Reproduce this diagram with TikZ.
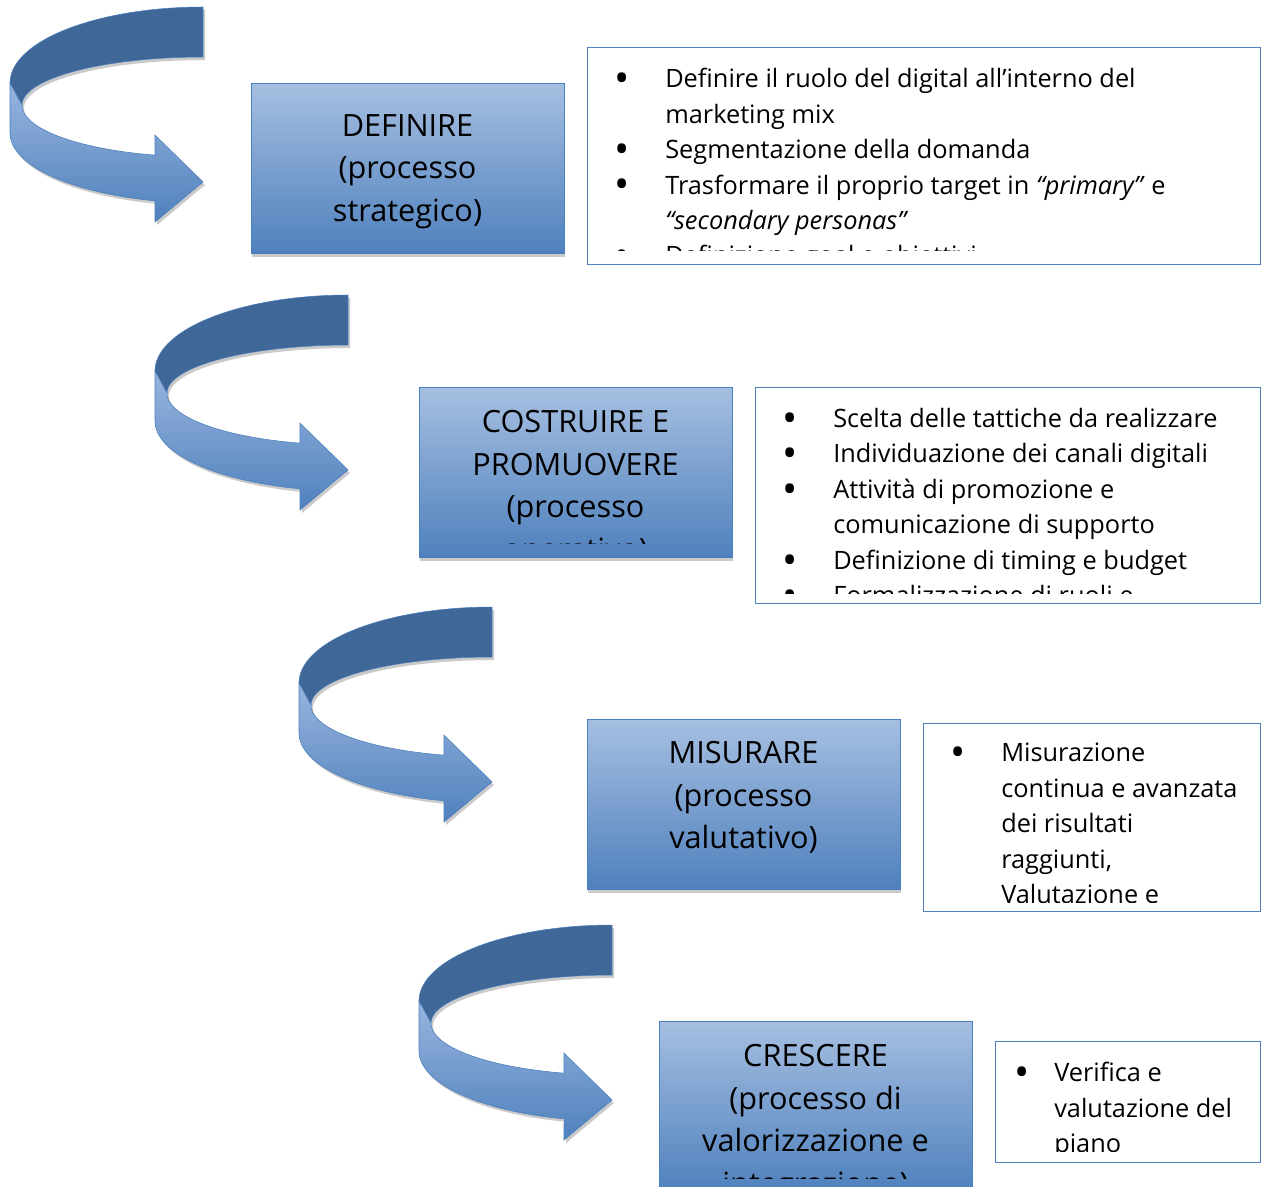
\documentclass[tikz,border=0pt]{standalone}
\usepackage{fontspec}
\setmainfont{Open Sans}
\usetikzlibrary{calc}
\usetikzlibrary{shadows}

\definecolor{dkblue}{HTML}{3F6797}
\definecolor{mdblue}{HTML}{4F81BD}
\definecolor{ltblue}{HTML}{A6BFE1}
\definecolor{arblue}{HTML}{98B5DE}
\definecolor{lnblue}{HTML}{4A7EBB}
\definecolor{shgray}{HTML}{CACACA}

\newcommand{\itm}[1][32.25pt]{\makebox[0pt]{\smash{\raisebox{-3.6pt}{\scalebox{1.6}{\textbullet}}}}\hspace*{#1}}
\newcommand{\ind}[1][32.25pt]{\hspace*{#1}}
\newcommand{\arrtop}{(203,7) -- plot[domain=90:180,samples=40] ({203+193*cos(\x)},{83-76*sin(\x)}) -- (22,105) -- plot[domain=180:90,samples=40] ({203+181*cos(\x)},{105-48*sin(\x)}) -- cycle}
\newcommand{\arrbot}{(10,83) -- (10,133) -- plot[domain=180:104.4,samples=40] ({203+193*cos(\x)},{133+70*sin(\x)}) -- (155,222) -- (203,182) -- (155,135) -- (155,155) -- plot[domain=105:180,samples=40] ({203+181*cos(\x)},{105+52*sin(\x)}) -- cycle}

\begin{document}
\begin{tikzpicture}[x=0.75pt,y=-0.75pt,
    box/.style={draw=lnblue,top color=ltblue,bottom color=mdblue,inner sep=0pt,
        minimum width=234.75pt,minimum height=127.5pt,
        general shadow={fill=shgray,shadow xshift=0.75pt,shadow yshift=-3pt}},
    tbox/.style={draw=mdblue,fill=white,inner sep=0pt},
    btxt/.style={align=center,inner sep=0pt,font=\fontsize{23}{31.9}\selectfont},
    lst/.style={align=left,inner sep=0pt,font=\fontsize{19}{26.6}\selectfont}]
\useasboundingbox (0,0) rectangle (1262,1186);

% curved arrows
\foreach \dx/\dy in {0/0,145/288,289/600,409/918}{
    \begin{scope}[shift={(\dx,\dy)}]
        \begin{scope}[shift={(2,3)}]
            \fill[shgray] \arrtop;
            \fill[shgray] \arrbot;
        \end{scope}
        \draw[lnblue,fill=dkblue] \arrtop;
        \draw[lnblue,top color=arblue,bottom color=mdblue] \arrbot;
    \end{scope}
}

% process boxes
\node[box] (def) at (407.5,168) {};
\node[box] (cos) at (575.5,472) {};
\node[box] (mis) at (743.5,804) {};
\node[box] (cre) at (815.5,1106) {};

\begin{scope}
    \clip ($(def.north west)+(2,2)$) rectangle ($(def.south east)+(-2,-13)$);
    \node[btxt,anchor=north] (deft) at ($(def.north)+(0,31.5)$) {DEFINIRE\\(processo\\strategico)};
\end{scope}
\begin{scope}
    \clip ($(cos.north west)+(2,2)$) rectangle ($(cos.south east)+(-2,-14)$);
    \node[btxt,anchor=north] (cost) at ($(cos.north)+(0,23.5)$) {COSTRUIRE E\\PROMUOVERE\\(processo\\operativo)};
\end{scope}
\begin{scope}
    \clip ($(mis.north west)+(2,2)$) rectangle ($(mis.south east)+(-2,-13)$);
    \node[btxt,anchor=north] (mist) at ($(mis.north)+(0,22.5)$) {MISURARE\\(processo\\valutativo)};
\end{scope}
\begin{scope}
    \clip ($(cre.north west)+(2,2)$) rectangle (1260,1178);
    \node[btxt,anchor=north] (cret) at ($(cre.north)+(0,23.5)$) {CRESCERE\\(processo di\\valorizzazione e\\integrazione)};
\end{scope}

% bullet lists
\node[tbox,minimum width=504.75pt,minimum height=162.75pt] (defl) at (923.5,155.5) {};
\node[tbox,minimum width=378.75pt,minimum height=162pt] (cosl) at (1007.5,495) {};
\node[tbox,minimum width=252.75pt,minimum height=141pt] (misl) at (1091.5,817) {};
\node[tbox,minimum width=198.75pt,minimum height=90.75pt] (crel) at (1127.5,1101.5) {};

\begin{scope}
    \clip ($(defl.north west)+(1,1)$) rectangle ($(defl.south east)+(-1,-14)$);
    \node[lst,anchor=north west] (deflt) at (622,68) {\itm Definire il ruolo del digital all’interno del\\
        \ind marketing mix\\
        \itm Segmentazione della domanda\\
        \itm Trasformare il proprio target in \textit{“primary”} e\\
        \ind\textit{“secondary personas”}\\
        \itm Definizione goal e obiettivi};
\end{scope}
\begin{scope}
    \clip ($(cosl.north west)+(1,1)$) rectangle ($(cosl.south east)+(-1,-10)$);
    \node[lst,anchor=north west] (coslt) at (790,408) {\itm Scelta delle tattiche da realizzare\\
        \itm Individuazione dei canali digitali\\
        \itm Attività di promozione e\\
        \ind comunicazione di supporto\\
        \itm Definizione di timing e budget\\
        \itm Formalizzazione di ruoli e};
\end{scope}
\begin{scope}
    \clip ($(misl.north west)+(1,1)$) rectangle ($(misl.south east)+(-1,-9)$);
    \node[lst,anchor=north west] (mislt) at (958,743) {\itm Misurazione\\
        \ind continua e avanzata\\
        \ind dei risultati\\
        \ind raggiunti,\\
        \ind Valutazione e};
\end{scope}
\begin{scope}
    \clip ($(crel.north west)+(1,1)$) rectangle ($(crel.south east)+(-1,-11)$);
    \node[lst,anchor=north west] (crelt) at (1022,1062) {\itm[24pt]Verifica e\\
        \ind[24pt]valutazione del\\
        \ind[24pt]piano};
\end{scope}
\end{tikzpicture}
\end{document}
